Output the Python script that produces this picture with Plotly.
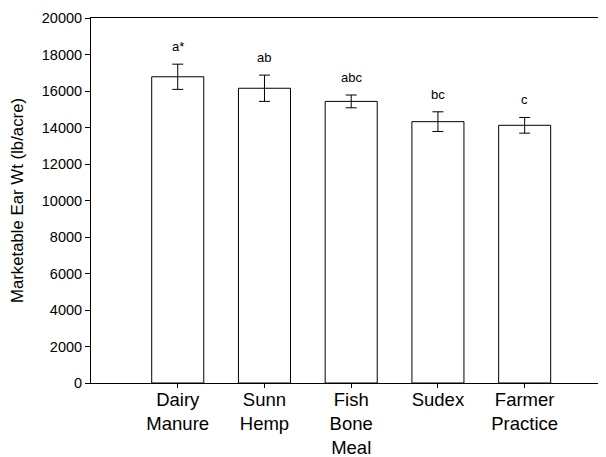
import plotly.graph_objects as go

categories = ["Dairy<br>Manure", "Sunn<br>Hemp", "Fish<br>Bone<br>Meal", "Sudex", "Farmer<br>Practice"]
means = [16780, 16150, 15430, 14320, 14120]
errors = [690, 720, 350, 540, 430]
letters = ["a*", "ab", "abc", "bc", "c"]
y_ticks = [0, 2000, 4000, 6000, 8000, 10000, 12000, 14000, 16000, 18000, 20000]

FONT = "Liberation Sans, Arial, sans-serif"

fig = go.Figure()
fig.add_trace(go.Bar(
    x=categories, y=means, width=0.6,
    marker=dict(color="white", line=dict(color="black", width=1)),
    error_y=dict(type="data", array=errors, color="black", thickness=1, width=5.5),
    showlegend=False,
))

for c, m, e, t in zip(categories, means, errors, letters):
    fig.add_annotation(x=c, y=m + e, text=t, showarrow=False, yanchor="bottom",
                       yshift=8, font=dict(family=FONT, size=13, color="black"))

# page body adds ~8px offset; margins compensate
fig.update_layout(
    width=606, height=457,
    margin=dict(l=83, r=0, t=10, b=82),
    plot_bgcolor="white", paper_bgcolor="white",
    font=dict(family=FONT, color="black"),
    bargap=0.4,
)
fig.update_xaxes(
    range=[-1.0, 5.03], showline=True, linecolor="black", linewidth=1, mirror=True,
    ticks="outside", ticklen=4, tickcolor="black", tickfont=dict(family=FONT, size=18.5),
    ticklabelstandoff=-4,
    showgrid=False, zeroline=False, automargin=False,
)
fig.update_yaxes(
    range=[0, 20000], tickvals=y_ticks, ticktext=[str(v) for v in y_ticks],
    showline=True, linecolor="black", linewidth=1,
    ticks="outside", ticklen=5, tickcolor="black", tickfont=dict(family=FONT, size=14.5),
    showgrid=False, zeroline=False, automargin=False,
    title=dict(text="Marketable Ear Wt (lb/acre)", font=dict(family=FONT, size=16.8), standoff=16),
)

fig.write_html("out.html")
